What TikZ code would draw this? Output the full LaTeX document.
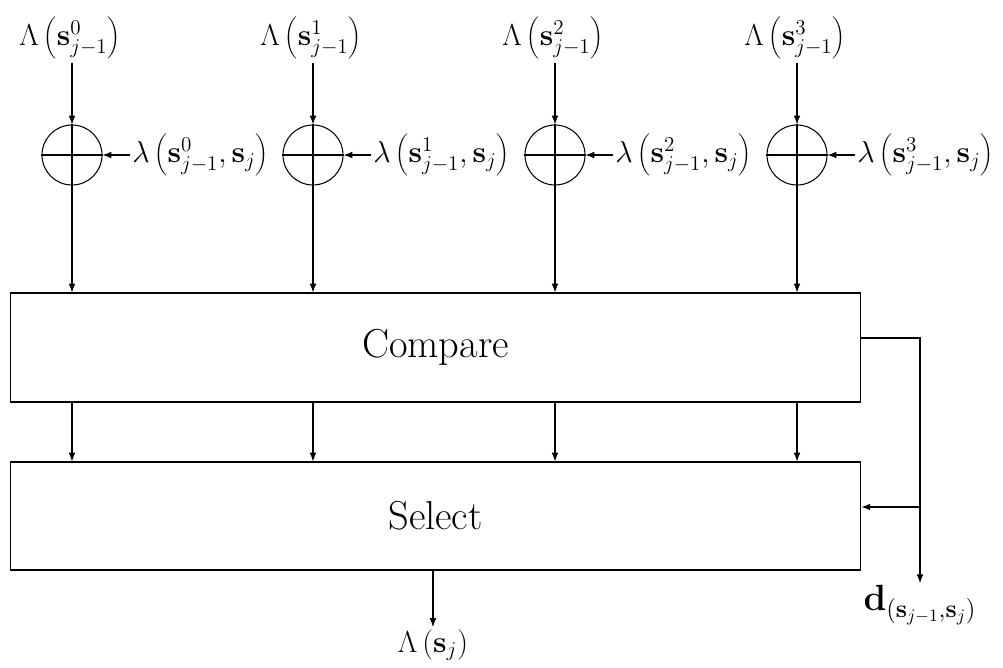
\documentclass[tikz,border=0pt]{standalone}
\usetikzlibrary{arrows.meta}
\begin{document}
\begin{tikzpicture}[x=0.02cm,y=-0.02cm,
  line width=0.6pt,
  arr/.style={-{Latex[length=5pt,width=3.8pt]}},
  sumnode/.style={circle,draw,minimum size=1.2cm,inner sep=0pt},
  blockbox/.style={draw,minimum width=17.02cm,inner sep=0pt,font=\fontsize{23}{27}\selectfont},
  lbl/.style={inner sep=1pt,font=\fontsize{17.8}{21}\selectfont}
]
\useasboundingbox (0,0) rectangle (1003,667);

% top labels
\node[lbl] (L0) at (70,38) {$\Lambda\left(\mathbf{s}^0_{j-1}\right)$};
\node[lbl] (L1) at (311,38) {$\Lambda\left(\mathbf{s}^1_{j-1}\right)$};
\node[lbl] (L2) at (553,38) {$\Lambda\left(\mathbf{s}^2_{j-1}\right)$};
\node[lbl] (L3) at (795,38) {$\Lambda\left(\mathbf{s}^3_{j-1}\right)$};
\foreach \i/\x in {0/72,1/313,2/555,3/797}{
  \coordinate (t\i) at (\x,63);
}

% adders
\foreach \i/\x in {0/72,1/313,2/555,3/797}{
  \node[sumnode] (c\i) at (\x,155) {};
  \draw (c\i.north) -- (c\i.south) (c\i.west) -- (c\i.east);
}

% lambda labels
\node[lbl,anchor=west] (m0) at (130,155) {$\lambda\left(\mathbf{s}^0_{j-1},\mathbf{s}_j\right)$};
\node[lbl,anchor=west] (m1) at (371,155) {$\lambda\left(\mathbf{s}^1_{j-1},\mathbf{s}_j\right)$};
\node[lbl,anchor=west] (m2) at (613,155) {$\lambda\left(\mathbf{s}^2_{j-1},\mathbf{s}_j\right)$};
\node[lbl,anchor=west] (m3) at (855,155) {$\lambda\left(\mathbf{s}^3_{j-1},\mathbf{s}_j\right)$};

% blocks
\node[blockbox,minimum height=2.18cm] (cmp) at (435.5,347.5) {Compare};
\node[blockbox,minimum height=2.16cm] (sel) at (435.5,516) {Select};

\foreach \i in {0,1,2,3}{
  \draw[arr] (t\i) -- (c\i);
  \draw[arr] (m\i) -- (c\i);
  \draw[arr] (c\i) -- (c\i |- cmp.north);
  \draw[arr] (c\i |- cmp.south) -- (c\i |- sel.north);
}

% output
\node[lbl] (out) at (433,645) {$\Lambda\left(\mathbf{s}_j\right)$};
\coordinate (oc) at (433,570);
\draw[arr] (oc) -- (out);

% feedback decision
\node[lbl,font=\fontsize{20}{24}\selectfont] (dd) at (920,605) {$\mathbf{d}_{(\mathbf{s}_{j-1},\mathbf{s}_j)}$};
\coordinate (fb) at (920,338);
\coordinate (br) at (920,507);
\draw[arr] (cmp.east |- fb) -- (fb) -- (dd);
\draw[arr] (br) -- (sel.east |- br);
\end{tikzpicture}
\end{document}
